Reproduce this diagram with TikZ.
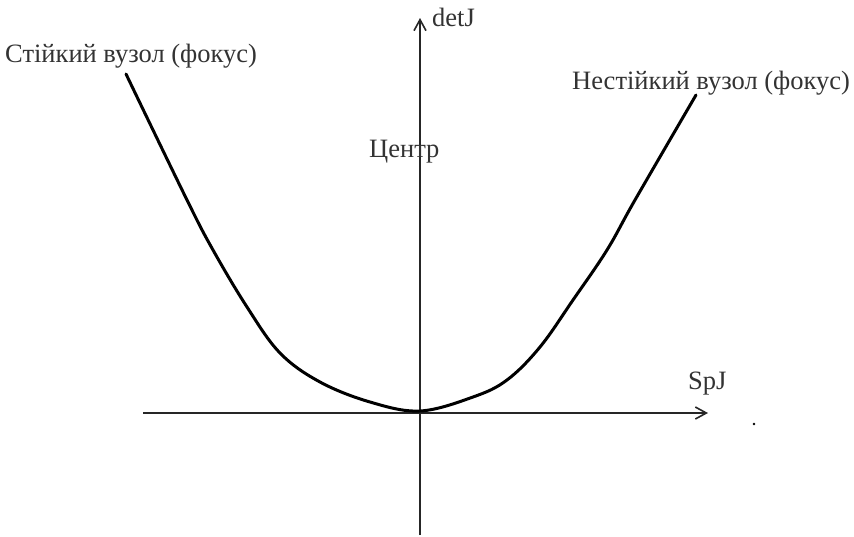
\documentclass[tikz,border=0pt]{standalone}
\usepackage{fontspec}
\setmainfont{Liberation Serif}
\usetikzlibrary{arrows.meta}
\begin{document}
\begin{tikzpicture}[x=1pt,y=-1pt,
  axis/.style={line width=2.5pt,draw=black!85,-{Straight Barb[length=11pt,width=12pt,line width=1.6pt]}},
  curve/.style={line width=3pt,line cap=round},
  lbl/.style={inner sep=0pt,text=black!80,font=\fontsize{26.5}{30}\selectfont}]
\useasboundingbox (0,0) rectangle (854,536);
\coordinate (xs) at (143,413);
\coordinate (xe) at (708,413);
\coordinate (ys) at (420,535);
\coordinate (ye) at (420,18);
\draw[axis] (xs) -- (xe);
\draw[axis] (ys) -- (ye);
\draw[curve] plot[smooth,tension=0.6] coordinates {(126,74) (187,200) (213,250) (247,307) (280,353) (320,382) (370,402) (420,411) (473,397) (507,380) (540,347) (573,300) (607,250) (635,200) (696,95)};
\node[lbl,anchor=west] (stab) at (5,56) {Стійкий вузол (фокус)};
\node[lbl,anchor=west] (unst) at (572,83) {Нестійкий вузол (фокус)};
\node[lbl,anchor=west] (cent) at (369,152) {Центр};
\node[lbl,anchor=west] (det) at (432,17) {detJ};
\node[lbl,anchor=west] (spj) at (688,384) {SpJ};
\fill (754,424) circle (1.3pt) node (dot) {};
\end{tikzpicture}
\end{document}
